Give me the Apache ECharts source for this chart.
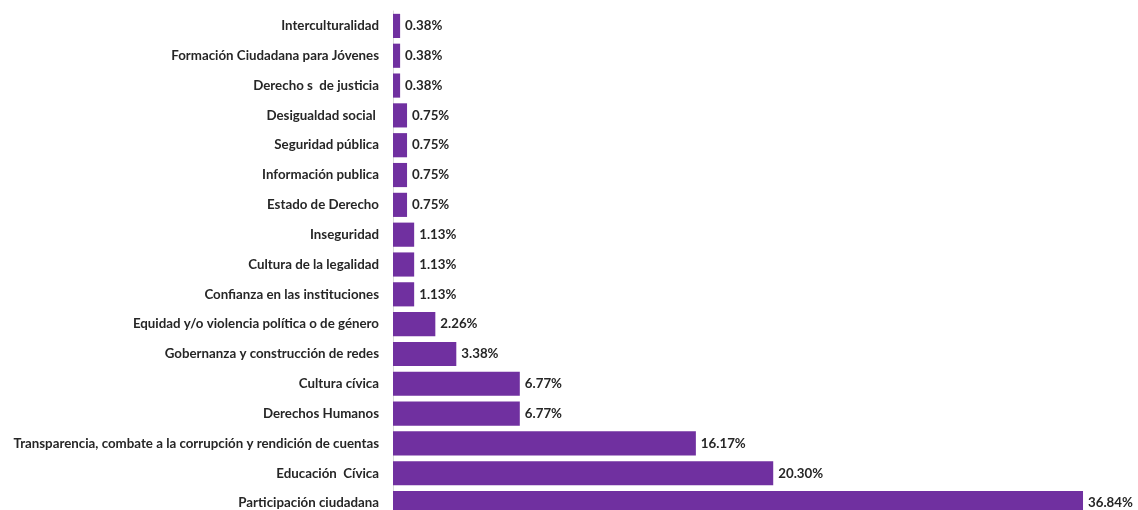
<!DOCTYPE html>
<html><head><meta charset="utf-8">
<script src="https://cdn.jsdelivr.net/npm/echarts@6/dist/echarts.min.js"></script>
<style>html,body{margin:0;padding:0;background:#fff}#c{width:1138px;height:510px}</style>
</head><body><div id="c"></div>
<script>
var categories = [
  "Interculturalidad",
  "Formación Ciudadana para Jóvenes",
  "Derecho s  de justicia",
  "Desigualdad social ",
  "Seguridad pública",
  "Información publica",
  "Estado de Derecho",
  "Inseguridad",
  "Cultura de la legalidad",
  "Confianza en las instituciones",
  "Equidad y/o violencia política o de género",
  "Gobernanza y construcción de redes",
  "Cultura cívica",
  "Derechos Humanos",
  "Transparencia, combate a la corrupción y rendición de cuentas",
  "Educación  Cívica",
  "Participación ciudadana"
];
var values = [0.38, 0.38, 0.38, 0.75, 0.75, 0.75, 0.75, 1.13, 1.13, 1.13, 2.26, 3.38, 6.77, 6.77, 16.17, 20.30, 36.84];

var chart = echarts.init(document.getElementById('c'));
chart.setOption({
  animation: false,
  grid: { left: 393, width: 38 * 18.73, top: 11, height: 507, containLabel: false, outerBoundsMode: 'none' },
  xAxis: { type: 'value', min: 0, max: 38, show: false },
  yAxis: {
    type: 'category', data: categories, inverse: true,
    axisLine: { show: true, lineStyle: { color: '#d9d9d9', width: 1 } },
    axisTick: { show: false },
    axisLabel: { margin: 14, color: '#262626', fontFamily: 'Lato', fontWeight: 'bold', fontSize: 13.3 }
  },
  series: [{
    type: 'bar', data: values, barCategoryGap: '19%',
    itemStyle: { color: '#7030A0' },
    label: {
      show: true, position: 'right', distance: 5,
      color: '#262626', fontFamily: 'Lato', fontWeight: 'bold', fontSize: 13.3,
      formatter: function (p) { return p.value.toFixed(2) + '%'; }
    }
  }]
});
</script></body></html>
